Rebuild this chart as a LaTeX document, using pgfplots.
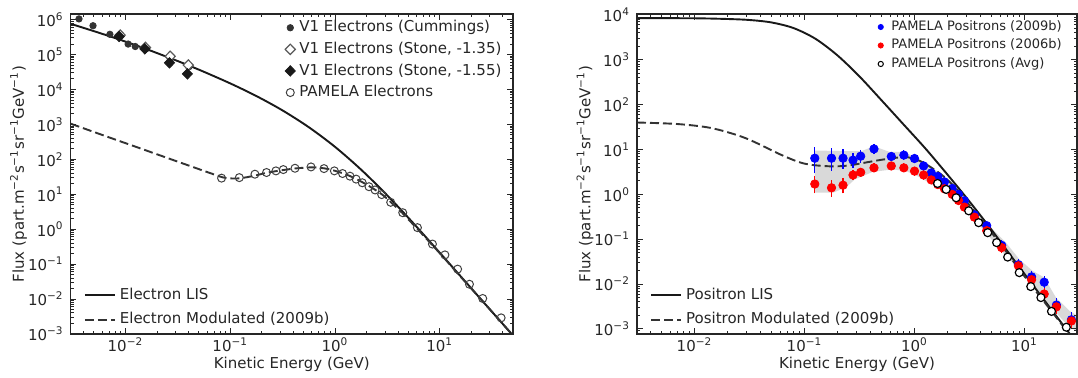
\documentclass[border=0pt]{standalone}
\usepackage{fontspec}
\setmainfont{DejaVu Sans}
\usepackage{pgfplots}
\pgfplotsset{compat=1.18}
\definecolor{ink}{HTML}{262626}
\definecolor{mblue}{HTML}{0000FF}
\definecolor{mred}{HTML}{FF0000}
\newcommand{\fs}{\fontsize{7.5}{9}\selectfont}
\newcommand{\fss}{\fontsize{6.5}{8}\selectfont}
\newcommand{\sx}[1]{10\textsuperscript{#1}}
\newcommand{\fluxlabel}{Flux (part.m\textsuperscript{−2}s\textsuperscript{−1}sr\textsuperscript{−1}GeV\textsuperscript{−1})}
\pgfplotsset{
  every axis/.append style={
    tick label style={font=\fs, text=ink},
    xticklabel style={inner sep=1.5pt},
    every axis label/.append style={font=\fs, text=ink},
    axis line style={draw=ink, line width=0.6pt},
    every tick/.append style={draw=ink, line width=0.5pt},
    major tick length=2.8pt, minor tick length=1.5pt,
    legend style={draw=none, fill=none, font=\fs, text=ink, inner sep=0pt, outer sep=0pt, row sep=1pt},
    legend cell align=left,
  },
  mkleg/.style={legend image code/.code={\draw[##1] plot coordinates {(0pt,0pt)};}},
  lnleg/.style={legend image code/.code={\draw[##1] (0pt,0pt) -- (15pt,0pt);}},
  lisline/.style={black!90, line width=0.95pt, smooth, lnleg},
  modline/.style={black!80, line width=0.95pt, dash pattern=on 4.5pt off 2pt, smooth, lnleg},
}
\begin{document}
\begin{tikzpicture}
\path[use as bounding box] (0,0) rectangle (539pt,188.5pt);
% ---------------- Left panel: curves ----------------
\begin{axis}[xmode=log, ymode=log, scale only axis, height=160pt, width=221.15pt,
  at={(35.35pt,21.5pt)}, anchor=south west,
  xmin=0.003, xmax=50, ymin=1e-3, ymax=1.45e6, hide axis,
  legend style={at={(0.03,0.01)}, anchor=south west}]
\addplot[lisline] coordinates {(0.003,7.59e5) (0.005623,4.18e5) (0.01,2.35e5) (0.01778,1.262e5) (0.03162,6.50e4) (0.03981,4.93e4) (0.05623,3.20e4) (0.1,1.496e4) (0.1778,6.49e3) (0.3162,2.51e3) (0.5623,832) (1,228) (1.778,50.5) (3.162,9.23) (5.623,1.46) (10,0.212) (17.78,0.0302) (31.62,0.00427) (50,0.00091)};
\addlegendentry{Electron LIS}
\addplot[modline] coordinates {(0.003,1050) (0.006,500) (0.0135,212) (0.025,110) (0.045,59) (0.065,40) (0.085,30.5) (0.1,28.5) (0.125,28.8) (0.17,34) (0.22,41) (0.3,48) (0.42,55) (0.6,59) (0.8,55) (1.0,47) (1.4,33) (2.0,19) (2.8,10) (3.4,6.0) (4.4,2.9) (6.0,1.08) (8.5,0.35) (11,0.15) (15,0.052) (20,0.02) (26,0.0083) (38.5,0.0022) (50,0.0009)};
\addlegendentry{Electron Modulated (2009b)}
\end{axis}
% ---------------- Left panel: data ----------------
\begin{axis}[xmode=log, ymode=log, scale only axis, height=160pt, width=221.15pt,
  at={(35.35pt,21.5pt)}, anchor=south west,
  xmin=0.003, xmax=50, ymin=1e-3, ymax=1.45e6,
  xtick={0.01,0.1,1,10}, xticklabels={\sx{−2},\sx{−1},\sx{0},\sx{1}},
  minor xtick={0.004,0.005,0.006,0.007,0.008,0.009,0.02,0.03,0.04,0.05,0.06,0.07,0.08,0.09,0.2,0.3,0.4,0.5,0.6,0.7,0.8,0.9,2,3,4,5,6,7,8,9,20,30,40},
  ytick={1e-3,1e-2,1e-1,1,10,100,1e3,1e4,1e5,1e6},
  yticklabels={\sx{−3},\sx{−2},\sx{−1},\sx{0},\sx{1},\sx{2},\sx{3},\sx{4},\sx{5},\sx{6}},
  minor ytick={2e-3,3e-3,4e-3,5e-3,6e-3,7e-3,8e-3,9e-3,2e-2,3e-2,4e-2,5e-2,6e-2,7e-2,8e-2,9e-2,0.2,0.3,0.4,0.5,0.6,0.7,0.8,0.9,2,3,4,5,6,7,8,9,20,30,40,50,60,70,80,90,200,300,400,500,600,700,800,900,2e3,3e3,4e3,5e3,6e3,7e3,8e3,9e3,2e4,3e4,4e4,5e4,6e4,7e4,8e4,9e4,2e5,3e5,4e5,5e5,6e5,7e5,8e5,9e5},
  xlabel={Kinetic Energy (GeV)}, ylabel={\fluxlabel},
  xlabel style={at={(axis description cs:0.5,-0.094)}, anchor=center},
  ylabel style={at={(axis description cs:-0.118,0.5)}, anchor=center},
  legend style={at={(0.485,0.992)}, anchor=north west, row sep=-0.4pt}]
\addplot[only marks, mark=*, mark size=1.6pt, draw=black!80, fill=black!80, mkleg] coordinates {(0.0036,1.05e6) (0.0049,6.7e5) (0.0071,3.8e5) (0.0086,3.4e5) (0.0106,2.0e5) (0.0124,1.7e5) (0.0157,1.46e5) (0.0267,7.7e4) (0.0404,4.5e4)};
\addlegendentry{V1 Electrons (Cummings)}
\addplot[only marks, mark=diamond*, mark size=2.6pt, mark options={xscale=1.3, draw=black!65, fill=white, line width=0.6pt}, mkleg] coordinates {(0.0089,3.6e5) (0.0155,1.6e5) (0.0267,8.9e4) (0.0398,5.0e4)};
\addlegendentry{V1 Electrons (Stone, -1.35)}
\addplot[only marks, mark=diamond*, mark size=2.6pt, mark options={xscale=1.3, draw=black!90, fill=black!90}, mkleg] coordinates {(0.0087,3.3e5) (0.0153,1.46e5) (0.0263,5.8e4) (0.039,2.8e4)};
\addlegendentry{V1 Electrons (Stone, -1.55)}
\addplot[only marks, mark=o, mark size=2pt, mark options={draw=black!75, line width=0.5pt}, mkleg] coordinates {(0.0826,29) (0.122,30) (0.172,37.6) (0.222,42) (0.273,46.8) (0.321,51) (0.415,55.6) (0.59,60.7) (0.785,54.4) (0.986,46.8) (1.18,39.3) (1.39,33) (1.59,27.2) (1.82,21.4) (2.11,16.5) (2.41,13.3) (2.79,9.8) (3.4,5.9) (4.43,2.97) (6.12,1.11) (8.51,0.376) (11.2,0.184) (14.8,0.072) (19.2,0.0266) (25.7,0.0104) (38.5,0.0029)};
\addlegendentry{PAMELA Electrons}
\end{axis}
% ---------------- Right panel: band and curves ----------------
\begin{axis}[xmode=log, ymode=log, scale only axis, height=160pt, width=220pt,
  at={(318.5pt,21.5pt)}, anchor=south west,
  xmin=0.003, xmax=30, ymin=7.7e-4, ymax=1.05e4, hide axis,
  legend style={at={(0.03,0.01)}, anchor=south west}]
\addplot[fill=gray!30, draw=none, forget plot] coordinates {
(0.124,9.5) (0.24,9.2) (0.329,9.2) (0.428,11.8) (0.593,8.85) (0.783,8.85) (1.035,6.75) (1.276,4.79) (1.687,3.02) (2.22,1.67) (2.94,0.84) (3.88,0.39) (5.13,0.167) (6.78,0.084) (8.95,0.036) (11.8,0.0198) (15.1,0.014) (19.3,0.00503) (25.5,0.00255) (30,0.00198)
(30,0.00091) (25.5,0.00109) (19.3,0.00234) (14.55,0.00465) (11.04,0.0118) (7.8,0.0302) (5.9,0.06) (4.47,0.14) (3.38,0.302) (2.56,0.6) (1.94,1.09) (1.466,1.61) (1.109,2.42) (0.841,3.3) (0.635,3.6) (0.419,3.18) (0.286,2.15) (0.24,1.45) (0.182,1.09) (0.124,1.09)};
\addplot[lisline] coordinates {(0.003,8511) (0.01,8433) (0.01995,8128) (0.03162,7727) (0.05012,6808) (0.07943,5105) (0.1259,2938) (0.1995,1253) (0.3162,425) (0.5012,125.3) (0.7943,36.3) (1.259,10.47) (1.995,2.754) (3.162,0.692) (5.012,0.162) (7.943,0.0355) (12.59,0.00794) (19.95,0.00178) (30,4.79e-4)};
\addlegendentry{Positron LIS}
\addplot[modline] coordinates {(0.003,40) (0.007,37) (0.0143,30) (0.029,18) (0.06,7.8) (0.09,5.2) (0.12,4.5) (0.18,4.2) (0.25,4.4) (0.34,5.0) (0.5,5.9) (0.7,6.6) (0.85,6.8) (1.11,5.6) (1.37,4.2) (1.81,2.6) (2.39,1.35) (3.16,0.57) (4.4,0.21) (6.31,0.068) (9.0,0.021) (12.6,0.0071) (17.8,0.0024) (24,9.3e-4) (30,4.6e-4)};
\addlegendentry{Positron Modulated (2009b)}
\end{axis}
% ---------------- Right panel: data ----------------
\begin{axis}[xmode=log, ymode=log, scale only axis, height=160pt, width=220pt,
  at={(318.5pt,21.5pt)}, anchor=south west,
  xmin=0.003, xmax=30, ymin=7.7e-4, ymax=1.05e4,
  xtick={0.01,0.1,1,10}, xticklabels={\sx{−2},\sx{−1},\sx{0},\sx{1}},
  minor xtick={0.004,0.005,0.006,0.007,0.008,0.009,0.02,0.03,0.04,0.05,0.06,0.07,0.08,0.09,0.2,0.3,0.4,0.5,0.6,0.7,0.8,0.9,2,3,4,5,6,7,8,9,20},
  ytick={1e-3,1e-2,1e-1,1,10,100,1e3,1e4},
  yticklabels={\sx{−3},\sx{−2},\sx{−1},\sx{0},\sx{1},\sx{2},\sx{3},\sx{4}},
  minor ytick={8e-4,9e-4,2e-3,3e-3,4e-3,5e-3,6e-3,7e-3,8e-3,9e-3,2e-2,3e-2,4e-2,5e-2,6e-2,7e-2,8e-2,9e-2,0.2,0.3,0.4,0.5,0.6,0.7,0.8,0.9,2,3,4,5,6,7,8,9,20,30,40,50,60,70,80,90,200,300,400,500,600,700,800,900,2e3,3e3,4e3,5e3,6e3,7e3,8e3,9e3},
  xlabel={Kinetic Energy (GeV)}, ylabel={\fluxlabel},
  xlabel style={at={(axis description cs:0.5,-0.094)}, anchor=center},
  ylabel style={at={(axis description cs:-0.118,0.5)}, anchor=center},
  legend style={at={(0.544,0.992)}, anchor=north west, font=\fss, row sep=-1.2pt}]
\addplot[only marks, mark=*, mark size=2.1pt, color=mblue,
  legend image code/.code={\path[draw=none, fill=none] (0pt,0pt) rectangle (5.5pt,0.1pt); \fill[mblue] (2.2pt,0pt) circle (1.3pt);},
  error bars/.cd, y dir=both, y explicit, error mark options={mark size=2pt, line width=0.6pt}, error bar style={line width=0.6pt}]
  table[x=E, y=F, y error=e] {
E F e
0.124 6.4 2.8
0.176 6.4 2.3
0.224 6.4 1.8
0.276 5.8 1.0
0.324 7.1 0.9
0.428 10.3 0.6
0.615 7.0 0.3
0.80 7.5 0.3
1.0 6.3 0.2
1.21 4.3 0.15
1.42 3.0 0.1
1.63 2.5 0.1
1.87 1.9 0.07
2.2 1.35 0.05
2.51 1.0 0.04
2.84 0.72 0.03
3.5 0.35 0.015
4.53 0.2 0.01
6.2 0.073 0.004
8.8 0.027 0.002
11.6 0.0145 0.0015
15.1 0.011 0.0012
19.5 0.0034 0.0006
26.7 0.0016 0.0003
};
\addlegendentry{PAMELA Positrons (2009b)}
\addplot[only marks, mark=*, mark size=2.1pt, color=mred,
  legend image code/.code={\path[draw=none, fill=none] (0pt,0pt) rectangle (5.5pt,0.1pt); \fill[mred] (2.2pt,0pt) circle (1.3pt);},
  error bars/.cd, y dir=both, y explicit, error mark options={mark size=2pt, line width=0.6pt}, error bar style={line width=0.6pt}]
  table[x=E, y=F, y error=e] {
E F e
0.124 1.7 0.4
0.176 1.4 0.3
0.224 1.6 0.3
0.276 2.7 0.1
0.324 3.1 0.1
0.428 3.9 0.1
0.615 4.3 0.1
0.80 3.9 0.1
1.0 3.3 0.1
1.21 2.7 0.08
1.42 2.1 0.06
1.63 1.65 0.05
1.87 1.33 0.04
2.2 1.0 0.03
2.51 0.73 0.02
2.84 0.52 0.015
3.5 0.31 0.01
4.53 0.155 0.005
6.2 0.065 0.003
8.8 0.0255 0.0015
11.6 0.0125 0.001
15.1 0.006 0.0007
19.5 0.0031 0.0004
26.7 0.0015 0.0002
};
\addlegendentry{PAMELA Positrons (2006b)}
\addplot[only marks, mark=*, mark size=2pt, mark options={draw=black, fill=white, line width=0.6pt},
  legend image code/.code={\path[draw=none, fill=none] (0pt,0pt) rectangle (5.5pt,0.1pt); \draw[black, fill=white, line width=0.5pt] (2.2pt,0pt) circle (1.3pt);}]
  coordinates {(1.62,1.75) (1.94,1.29) (2.39,0.84) (3.11,0.43) (3.83,0.234) (4.63,0.14) (5.58,0.084) (7.03,0.040) (8.96,0.018) (11.4,0.0088) (14.1,0.0050) (17.6,0.00246) (24,0.00109)};
\addlegendentry{PAMELA Positrons (Avg)}
\end{axis}
\end{tikzpicture}
\end{document}
